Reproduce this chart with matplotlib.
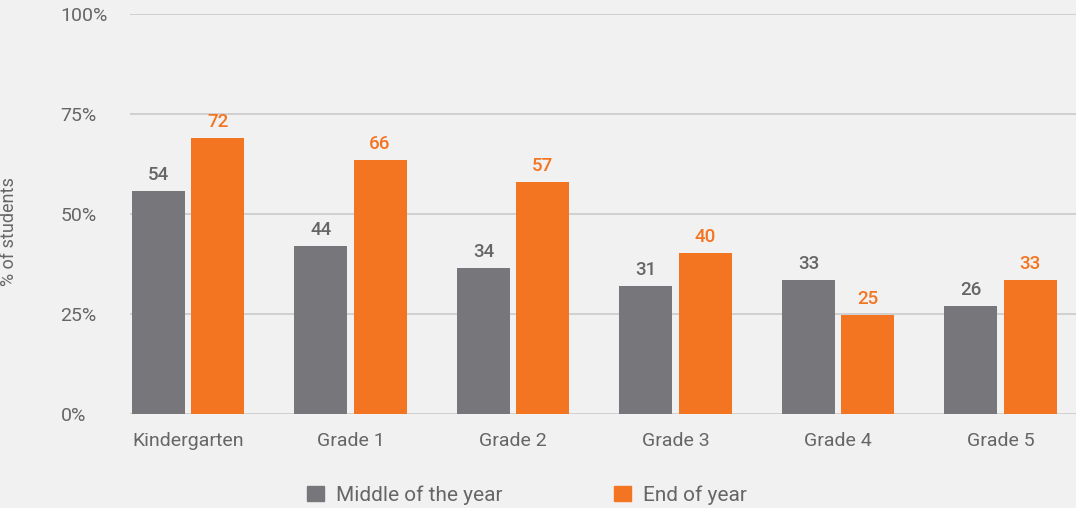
import numpy as np
import matplotlib
matplotlib.use("Agg")
import matplotlib.pyplot as plt
from matplotlib.patches import Patch

grades = ["Kindergarten", "Grade 1", "Grade 2", "Grade 3", "Grade 4", "Grade 5"]
# bar heights as drawn in the reference
middle_heights = [55.8, 42.0, 36.5, 32.0, 33.5, 27.0]
end_heights = [69.0, 63.5, 58.0, 40.3, 24.8, 33.5]
# printed value labels
middle_labels = [54, 44, 34, 31, 33, 26]
end_labels = [72, 66, 57, 40, 25, 33]
y_ticks = [0, 25, 50, 75, 100]

bg = "#f1f1f1"
gray = "#77777b"
orange = "#f47521"
text_gray = "#666666"

plt.rcParams["font.family"] = ["Roboto", "DejaVu Sans"]

fig = plt.figure(figsize=(10.76, 5.08), dpi=100, facecolor=bg)
ax = fig.add_axes([130 / 1076, 1 - 414 / 508, (1076 - 130) / 1076, 400 / 508])
ax.set_facecolor(bg)

x = np.arange(len(grades))
w = 0.326
off = 0.182
b1 = ax.bar(x - off, middle_heights, w, color=gray, zorder=3)
b2 = ax.bar(x + off, end_heights, w, color=orange, zorder=3)

for rect, lab in zip(b1, middle_labels):
    ax.annotate(str(lab), (rect.get_x() + rect.get_width() / 2, rect.get_height()),
                xytext=(0, 5), textcoords="offset points", ha="center", va="bottom",
                fontsize=13.5, color=text_gray, fontweight="medium")
for rect, lab in zip(b2, end_labels):
    ax.annotate(str(lab), (rect.get_x() + rect.get_width() / 2, rect.get_height()),
                xytext=(0, 5), textcoords="offset points", ha="center", va="bottom",
                fontsize=13.5, color=orange, fontweight="medium")

ax.set_xlim(-0.357, 5.465)
ax.set_ylim(0, 100)
ax.set_yticks(y_ticks)
ax.set_yticklabels([f"{t}%" for t in y_ticks], fontsize=14, color=text_gray,
                   ha="left")
ax.tick_params(axis="y", length=0, pad=50)
ax.set_xticks(x)
ax.set_xticklabels(grades, fontsize=14, color=text_gray)
ax.tick_params(axis="x", length=0, pad=13)
ax.yaxis.grid(True, color="#cacaca", linewidth=1.2, zorder=0)
for s in ax.spines.values():
    s.set_visible(False)

fig.text(9 / 1076, 1 - 232 / 508, "% of students", rotation=90, ha="center", va="center",
         fontsize=13, color=text_gray)

handles = [Patch(color=gray), Patch(color=orange)]
fig.legend(handles, ["Middle of the year", "End of year"], loc="center",
           bbox_to_anchor=(527 / 1076, 1 - 495 / 508), ncol=2, frameon=False,
           fontsize=15, labelcolor=text_gray, handlelength=0.8, handleheight=0.8,
           columnspacing=5.35, handletextpad=0.6)

fig.savefig("out.png", dpi=100, facecolor=bg)
